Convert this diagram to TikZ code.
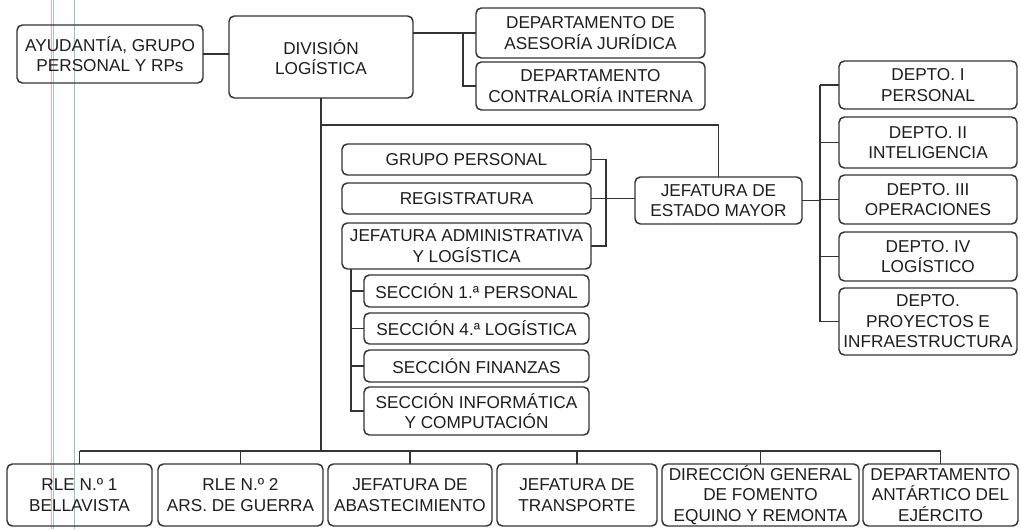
\documentclass[tikz,border=0pt]{standalone}
\usepackage{fontspec}
\setmainfont{Liberation Sans}
\definecolor{ln}{HTML}{333333}
\definecolor{tx}{HTML}{1E1E1E}
\newcommand\orgbox[6]{%
  \pgfmathsetmacro\bw{(#4-#2)*0.75}%
  \pgfmathsetmacro\bh{(#5-#3)*0.75}%
  \node[box, minimum width=\bw pt, minimum height=\bh pt] (#1) at ({(#2+#4)/2},{(#3+#5)/2}) {#6};}
\begin{document}
\begin{tikzpicture}[x=0.75pt,y=-0.75pt,
  box/.style={draw=ln, line width=1.1pt, rounded corners=4pt, inner sep=0pt, outer sep=0pt,
    align=center, text=tx, font=\fontsize{12.9}{15.4}\selectfont},
  link/.style={draw=ln, line width=1.1pt},
  scan/.style={line width=0.6pt}]
\useasboundingbox (0,0) rectangle (1021,529);
\fill[white] (0,0) rectangle (1021,529);
% scanner artefacts
\draw[scan, red!35] (51.5,0) -- (51.5,529);
\draw[scan, teal!40] (53.5,0) -- (53.5,529);
\draw[scan, teal!45] (74,0) -- (74,529);
% top row
\orgbox{ayu}{17}{25}{203}{83}{AYUDANTÍA, GRUPO\\PERSONAL Y RPs}
\orgbox{div}{229}{16}{413}{98}{DIVISIÓN\\LOGÍSTICA}
\orgbox{dj}{476}{8}{705}{58}{DEPARTAMENTO DE\\ASESORÍA JURÍDICA}
\orgbox{dc}{476}{62}{705}{110}{DEPARTAMENTO\\CONTRALORÍA INTERNA}
% middle left group
\orgbox{gp}{342}{144}{591}{175}{GRUPO PERSONAL}
\orgbox{reg}{342}{183}{591}{214}{REGISTRATURA}
\orgbox{ja}{342}{223}{591}{269}{JEFATURA ADMINISTRATIVA\\Y LOGÍSTICA}
\orgbox{s1}{364}{275}{589}{307}{SECCIÓN 1.ª PERSONAL}
\orgbox{s4}{364}{313}{589}{344}{SECCIÓN 4.ª LOGÍSTICA}
\orgbox{sf}{364}{350}{589}{382}{SECCIÓN FINANZAS}
\orgbox{si}{364}{387}{589}{435}{SECCIÓN INFORMÁTICA\\Y COMPUTACIÓN}
% estado mayor
\orgbox{jem}{635}{177}{802}{224}{JEFATURA DE\\ESTADO MAYOR}
\orgbox{d1}{839}{61}{1017}{109}{DEPTO. I\\PERSONAL}
\orgbox{d2}{839}{117}{1017}{168}{DEPTO. II\\INTELIGENCIA}
\orgbox{d3}{839}{175}{1017}{224}{DEPTO. III\\OPERACIONES}
\orgbox{d4}{839}{232}{1017}{281}{DEPTO. IV\\LOGÍSTICO}
\orgbox{dp}{839}{288}{1017}{355}{DEPTO.\\PROYECTOS E\\INFRAESTRUCTURA}
% bottom row
\orgbox{b1}{7}{464}{152}{526}{RLE N.º 1\\BELLAVISTA}
\orgbox{b2}{158}{464}{323}{526}{RLE N.º 2\\ARS. DE GUERRA}
\orgbox{b3}{328}{464}{492}{526}{JEFATURA DE\\ABASTECIMIENTO}
\orgbox{b4}{497}{464}{657}{526}{JEFATURA DE\\TRANSPORTE}
\orgbox{b5}{662}{464}{859}{526}{DIRECCIÓN GENERAL\\DE FOMENTO\\EQUINO Y REMONTA}
\orgbox{b6}{863}{464}{1018}{526}{DEPARTAMENTO\\ANTÁRTICO DEL\\EJÉRCITO}
% helper coordinates
\coordinate (tb) at (463,33);
\coordinate (hy) at (0,125);
\coordinate (bb) at (0,451);
\coordinate (lb) at (606,0);
\coordinate (sb) at (351,269);
\coordinate (rb) at (820,0);
% connectors
\draw[link] (ayu.east) -- (ayu.east -| div.west);
\draw[link] (dj.west -| div.east) -- (dj.west);
\draw[link] (tb) |- (dc.west);
\draw[link] (div.south) -- (div.south |- bb);
\draw[link] (div.south |- hy) -| (jem.north);
\draw[link] (gp.east) -| (lb |- ja.east) -- (ja.east);
\draw[link] (reg.east) -- (reg.east -| jem.west);
\draw[link] (sb) |- (si.west);
\draw[link] (sb |- s1.west) -- (s1.west);
\draw[link] (sb |- s4.west) -- (s4.west);
\draw[link] (sb |- sf.west) -- (sf.west);
\draw[link] (jem.east) -- (jem.east -| rb);
\draw[link] (rb |- d1.west) -- (rb |- dp.west);
\foreach \d in {d1,d2,d3,d4,dp} \draw[link] (rb |- \d.west) -- (\d.west);
\draw[link] (b1.north |- bb) -- (b6.north |- bb);
\foreach \b in {b1,b2,b3,b4,b5,b6} \draw[link] (\b.north |- bb) -- (\b.north);
\end{tikzpicture}
\end{document}
